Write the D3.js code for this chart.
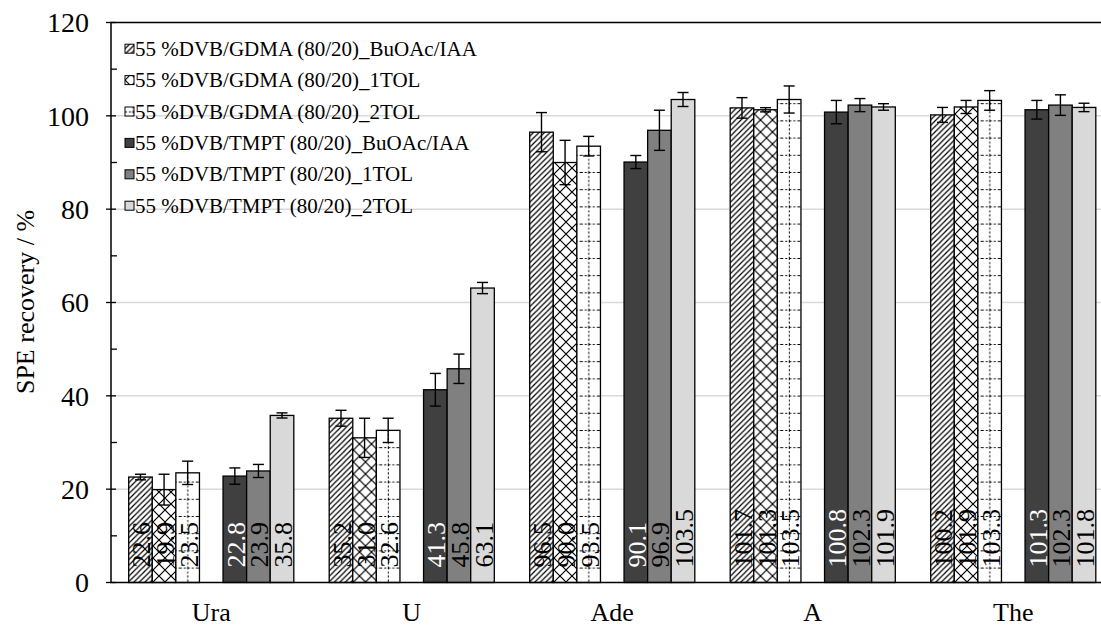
<!DOCTYPE html>
<html>
<head>
<meta charset="utf-8">
<script src="https://cdn.jsdelivr.net/npm/d3@7"></script>
<style>
  body { margin: 0; background: #fff; }
  svg { display: block; }
  svg text { font-family: "Liberation Serif", "Times New Roman", serif; }
</style>
</head>
<body>
<div id="chart"></div>
<script>
// chart data
const categories = ["Ura", "U", "Ade", "A", "The"];
const seriesNames = [
  "55 %DVB/GDMA (80/20)_BuOAc/IAA",
  "55 %DVB/GDMA (80/20)_1TOL",
  "55 %DVB/GDMA (80/20)_2TOL",
  "55 %DVB/TMPT (80/20)_BuOAc/IAA",
  "55 %DVB/TMPT (80/20)_1TOL",
  "55 %DVB/TMPT (80/20)_2TOL"
];
const gdmaBuOAc = [22.6, 35.2, 96.5, 101.7, 100.2];
const gdma1TOL  = [19.9, 31.0, 90.0, 101.3, 101.9];
const gdma2TOL  = [23.5, 32.6, 93.5, 103.5, 103.3];
const tmptBuOAc = [22.8, 41.3, 90.1, 100.8, 101.3];
const tmpt1TOL  = [23.9, 45.8, 96.9, 102.3, 102.3];
const tmpt2TOL  = [35.8, 63.1, 103.5, 101.9, 101.8];

const errGdmaBuOAc = [0.6, 1.7, 4.2, 2.2, 1.6];
const errGdma1TOL  = [3.3, 4.2, 4.75, 0.45, 1.4];
const errGdma2TOL  = [2.5, 2.6, 2.1, 2.9, 2.1];
const errTmptBuOAc = [1.75, 3.5, 1.4, 2.5, 2.0];
const errTmpt1TOL  = [1.4, 3.15, 4.3, 1.4, 2.2];
const errTmpt2TOL  = [0.55, 1.2, 1.5, 0.7, 0.9];

const yTicks = [0, 20, 40, 60, 80, 100, 120];

const values = [gdmaBuOAc, gdma1TOL, gdma2TOL, tmptBuOAc, tmpt1TOL, tmpt2TOL];
const errors = [errGdmaBuOAc, errGdma1TOL, errGdma2TOL, errTmptBuOAc, errTmpt1TOL, errTmpt2TOL];
// slot 3 inside each group is left empty
const slots = [0, 1, 2, 4, 5, 6];
const fills = ["url(#hatch)", "url(#cross)", "url(#dotgrid)", "#404040", "#808080", "#d9d9d9"];
const labelColors = ["#000", "#000", "#000", "#fff", "#000", "#000"];

const width = 1101, height = 626;
const plotLeft = 111, plotTop = 22.5, plotBottom = 582.5, plotRight = 1113.5;

const svg = d3.select("#chart").append("svg")
  .attr("width", width)
  .attr("height", height);

// patterns
const defs = svg.append("defs");
let p = defs.append("pattern").attr("id", "hatch")
  .attr("patternUnits", "userSpaceOnUse").attr("width", 5.5).attr("height", 5.5);
p.append("rect").attr("width", 5.5).attr("height", 5.5).attr("fill", "#fff");
p.append("path").attr("d", "M-1,6.5 L6.5,-1 M-1,1 L1,-1 M4.5,6.5 L6.5,4.5")
  .attr("stroke", "#000").attr("stroke-width", 1.2);

p = defs.append("pattern").attr("id", "cross")
  .attr("patternUnits", "userSpaceOnUse").attr("width", 12).attr("height", 12);
p.append("rect").attr("width", 12).attr("height", 12).attr("fill", "#fff");
p.append("path").attr("d", "M0,0 L12,12 M12,0 L0,12")
  .attr("stroke", "#000").attr("stroke-width", 1.2);

p = defs.append("pattern").attr("id", "dotgrid")
  .attr("patternUnits", "userSpaceOnUse").attr("width", 17.2).attr("height", 17.2);
p.append("rect").attr("width", 17.2).attr("height", 17.2).attr("fill", "#fff");
p.append("path").attr("d", "M0,0.5 H17.2 M8,0 V17.2")
  .attr("stroke", "#000").attr("stroke-width", 1).attr("stroke-dasharray", "2,2");

// scales
const x0 = d3.scaleBand().domain(categories).range([plotLeft, plotRight]);
const x1 = d3.scaleBand().domain(d3.range(7)).range([0, x0.bandwidth()]).paddingOuter(0.75);
const y = d3.scaleLinear().domain([0, 120]).range([plotBottom, plotTop]);

// gridlines
svg.append("g")
  .selectAll("line")
  .data(yTicks.filter(d => d > 0 && d < 120))
  .join("line")
  .attr("x1", plotLeft).attr("x2", plotRight)
  .attr("y1", d => y(d)).attr("y2", d => y(d))
  .attr("stroke", "#d9d9d9").attr("stroke-width", 1.5);

// bars
const groups = svg.append("g")
  .selectAll("g")
  .data(categories)
  .join("g")
  .attr("transform", d => `translate(${x0(d)},0)`);

groups.each(function(cat, ci) {
  const g = d3.select(this);
  const rows = values.map((v, si) => ({ si: si, v: v[ci], e: errors[si][ci] }));
  const cx = d => x1(slots[d.si]) + x1.bandwidth() / 2;

  g.selectAll("rect")
    .data(rows)
    .join("rect")
    .attr("x", d => x1(slots[d.si]))
    .attr("width", x1.bandwidth())
    .attr("y", d => y(d.v))
    .attr("height", d => y(0) - y(d.v))
    .attr("fill", d => fills[d.si])
    .attr("stroke", "#000")
    .attr("stroke-width", 1.3);

  // value labels
  g.selectAll("text")
    .data(rows)
    .join("text")
    .attr("transform", d => `translate(${cx(d)},${y(0) - 15}) rotate(-90)`)
    .attr("dy", 10)
    .attr("font-size", 26)
    .attr("fill", d => labelColors[d.si])
    .text(d => d.v.toFixed(1));

  // error bars
  const eb = g.selectAll("g.err")
    .data(rows)
    .join("g")
    .attr("class", "err")
    .attr("stroke", "#000")
    .attr("stroke-width", 1.4);
  eb.append("line")
    .attr("x1", cx).attr("x2", cx)
    .attr("y1", d => y(d.v - d.e))
    .attr("y2", d => y(d.v + d.e));
  eb.selectAll("line.cap")
    .data(d => [d.v - d.e, d.v + d.e].map(val => ({ si: d.si, val: val })))
    .join("line")
    .attr("class", "cap")
    .attr("x1", d => cx(d) - 5.5)
    .attr("x2", d => cx(d) + 5.5)
    .attr("y1", d => y(d.val))
    .attr("y2", d => y(d.val));
});

// frame
svg.append("rect")
  .attr("x", plotLeft).attr("y", plotTop)
  .attr("width", plotRight - plotLeft).attr("height", plotBottom - plotTop)
  .attr("fill", "none").attr("stroke", "#000").attr("stroke-width", 1.5);

// y axis ticks
const yAxis = svg.append("g");
yAxis.selectAll("line.major")
  .data(yTicks)
  .join("line")
  .attr("class", "major")
  .attr("x1", plotLeft - 5).attr("x2", plotLeft + 5)
  .attr("y1", d => y(d)).attr("y2", d => y(d))
  .attr("stroke", "#000").attr("stroke-width", 1.3);
yAxis.selectAll("line.minor")
  .data(d3.range(10, 120, 20))
  .join("line")
  .attr("class", "minor")
  .attr("x1", plotLeft).attr("x2", plotLeft + 6)
  .attr("y1", d => y(d)).attr("y2", d => y(d))
  .attr("stroke", "#000").attr("stroke-width", 1.3);
yAxis.selectAll("text")
  .data(yTicks)
  .join("text")
  .attr("x", 89)
  .attr("y", d => y(d))
  .attr("dy", "0.35em")
  .attr("text-anchor", "end")
  .attr("font-size", 28)
  .text(d => d);

// category labels
svg.append("g")
  .selectAll("text")
  .data(categories)
  .join("text")
  .attr("x", d => x0(d) + x0.bandwidth() / 2)
  .attr("y", 621)
  .attr("text-anchor", "middle")
  .attr("font-size", 26)
  .text(d => d);

// y title
svg.append("text")
  .attr("transform", "translate(25,302) rotate(-90)")
  .attr("dy", "0.35em")
  .attr("text-anchor", "middle")
  .attr("font-size", 26)
  .text("SPE recovery / %");

// legend
const legend = svg.append("g")
  .selectAll("g")
  .data(seriesNames)
  .join("g")
  .attr("transform", (d, i) => `translate(125,${48.7 + i * 31.4})`);
legend.append("rect")
  .attr("x", 0).attr("y", -4.5)
  .attr("width", 9).attr("height", 9)
  .attr("fill", (d, i) => fills[i])
  .attr("stroke", "#000").attr("stroke-width", 1);
legend.append("text")
  .attr("x", 10)
  .attr("y", 7)
  .attr("font-size", 21)
  .text(d => d);
</script>
</body>
</html>
